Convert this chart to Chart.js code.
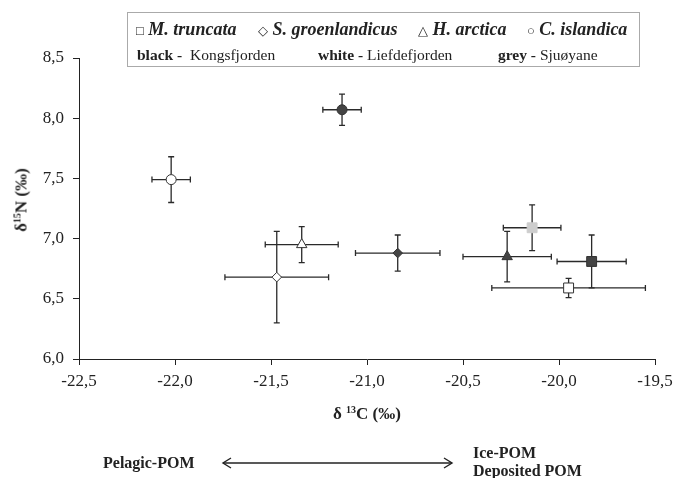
<!DOCTYPE html>
<html>
<head>
<meta charset="utf-8">
<title>δ15N vs δ13C</title>
<script src="https://cdn.jsdelivr.net/npm/chart.js@4.4.0/dist/chart.umd.min.js"></script>
<style>
  html, body { margin: 0; padding: 0; background: #fff; }
  #wrap { position: relative; width: 673px; height: 478px; overflow: hidden;
          font-family: 'Liberation Serif', 'Times New Roman', serif; color: #222; }
  #chart { position: absolute; left: 0; top: 0; }
  .t { position: absolute; white-space: nowrap; line-height: 1; transform: translateY(-50%); }
  .sp { font-weight: bold; font-style: italic; font-size: 18px; }
  .sym { font-size: 13px; font-style: normal; font-weight: normal; }
  .r2 { font-size: 15.5px; }
  .b { font-weight: bold; }
  #legendBox { position: absolute; left: 127px; top: 12px; width: 513px; height: 55px;
               border: 1px solid #aaa; box-sizing: border-box; }
  sup { font-size: 10px; vertical-align: 6px; }
</style>
</head>
<body>
<div id="wrap">
  <canvas id="chart" width="673" height="478"></canvas>

  <div id="legendBox"></div>
  <span class="t sp" style="left:136px;top:29px"><span class="sym">□</span> M. truncata</span>
  <span class="t sp" style="left:258px;top:29px"><span class="sym">◇</span> S. groenlandicus</span>
  <span class="t sp" style="left:418px;top:29px"><span class="sym">△</span> H. arctica</span>
  <span class="t sp" style="left:527px;top:29px"><span class="sym">○</span> C. islandica</span>

  <span class="t r2" style="left:137px;top:55px"><span class="b">black -</span>&nbsp; Kongsfjorden</span>
  <span class="t r2" style="left:318px;top:55px"><span class="b">white -</span> Liefdefjorden</span>
  <span class="t r2" style="left:498px;top:55px"><span class="b">grey -</span> Sjuøyane</span>

  <span class="t b" style="left:333px;top:413px;font-size:17px">δ <sup>13</sup>C (‰)</span>
  <span class="t b" style="left:21px;top:200px;font-size:17px;transform:translate(-50%,-50%) rotate(-90deg)">δ<sup>15</sup>N (‰)</span>

  <span class="t b" style="left:103px;top:463px;font-size:16px">Pelagic-POM</span>
  <span class="t b" style="left:473px;top:453px;font-size:16px">Ice-POM</span>
  <span class="t b" style="left:473px;top:471px;font-size:16px">Deposited POM</span>
  <svg style="position:absolute;left:220px;top:455px" width="236" height="16">
    <line x1="3" y1="8" x2="232" y2="8" stroke="#222" stroke-width="1.4"/>
    <polyline points="11,3 3,8 11,13" fill="none" stroke="#222" stroke-width="1.4"/>
    <polyline points="224,3 232,8 224,13" fill="none" stroke="#222" stroke-width="1.4"/>
  </svg>
</div>

<script>
// --- data (means ± sd) ---
const species = ['M. truncata', 'S. groenlandicus', 'H. arctica', 'C. islandica'];
const speciesShape = ['rect', 'rectRot', 'triangle', 'circle'];
const speciesSize = [7, 4.8, 6, 5];

// Kongsfjorden (black), order = species
const kongsC   = [-19.83, -20.84, -20.27, -21.13];
const kongsN   = [6.81, 6.88, 6.85, 8.07];
const kongsCsd = [0.18, 0.22, 0.23, 0.10];
const kongsNsd = [0.22, 0.15, 0.21, 0.13];

// Liefdefjorden (white)
const liefC   = [-19.95, -21.47, -21.34, -22.02];
const liefN   = [6.59, 6.68, 6.95, 7.49];
const liefCsd = [0.40, 0.27, 0.19, 0.10];
const liefNsd = [0.08, 0.38, 0.15, 0.19];

// Sjuøyane (grey), only M. truncata
const sjuC   = [-20.14];
const sjuN   = [7.09];
const sjuCsd = [0.15];
const sjuNsd = [0.19];

const xTickLabels = ['-22,5', '-22,0', '-21,5', '-21,0', '-20,5', '-20,0', '-19,5'];
const yTickLabels = ['6,0', '6,5', '7,0', '7,5', '8,0', '8,5'];

const FONT = 'Liberation Serif';
const INK = '#222';

const points = (cs, ns, csd, nsd) => cs.map((c, i) => ({ x: c, y: ns[i], xe: csd[i], ye: nsd[i] }));

const siteDataset = (label, data, fill, border) => ({
    label,
    data,
    pointStyle: speciesShape.slice(0, data.length),
    pointRadius: speciesSize.slice(0, data.length),
    pointBackgroundColor: fill,
    pointBorderColor: border,
    pointBorderWidth: 1,
    showLine: false
});

// error bars drawn from the same scales, under the markers
const errorBars = {
    id: 'errorBars',
    beforeDatasetsDraw(chart) {
        const { ctx, scales: { x, y } } = chart;
        const cap = 3;
        ctx.save();
        ctx.strokeStyle = '#2a2a2a';
        ctx.lineWidth = 1.3;
        chart.data.datasets.forEach(ds => {
            ds.data.forEach(p => {
                const px = x.getPixelForValue(p.x), py = y.getPixelForValue(p.y);
                const xl = x.getPixelForValue(p.x - p.xe), xr = x.getPixelForValue(p.x + p.xe);
                const yt = y.getPixelForValue(p.y + p.ye), yb = y.getPixelForValue(p.y - p.ye);
                ctx.beginPath();
                ctx.moveTo(xl, py); ctx.lineTo(xr, py);
                ctx.moveTo(xl, py - cap); ctx.lineTo(xl, py + cap);
                ctx.moveTo(xr, py - cap); ctx.lineTo(xr, py + cap);
                ctx.moveTo(px, yt); ctx.lineTo(px, yb);
                ctx.moveTo(px - cap, yt); ctx.lineTo(px + cap, yt);
                ctx.moveTo(px - cap, yb); ctx.lineTo(px + cap, yb);
                ctx.stroke();
            });
        });
        ctx.restore();
    }
};

new Chart(document.getElementById('chart'), {
    type: 'scatter',
    data: {
        datasets: [
            siteDataset('Kongsfjorden', points(kongsC, kongsN, kongsCsd, kongsNsd), '#444', '#333'),
            siteDataset('Liefdefjorden', points(liefC, liefN, liefCsd, liefNsd), '#fff', '#333'),
            siteDataset('Sjuøyane', points(sjuC, sjuN, sjuCsd, sjuNsd), '#cdcdcd', '#cdcdcd')
        ]
    },
    options: {
        responsive: false,
        animation: false,
        layout: { padding: { left: 0, top: 58, right: 18, bottom: 0 } },
        plugins: { legend: { display: false }, tooltip: { enabled: false } },
        scales: {
            x: {
                type: 'linear',
                min: -22.5, max: -19.5,
                afterFit: s => { s.height = 119; s.paddingRight = 0; s.paddingLeft = 0; },
                afterBuildTicks: s => { s.ticks = xTickLabels.map((_, i) => ({ value: -22.5 + i * 0.5 })); },
                border: { display: true, color: INK, width: 1 },
                grid: { drawOnChartArea: false, drawTicks: true, tickLength: 6, color: INK },
                ticks: {
                    padding: 6,
                    color: INK,
                    font: { family: FONT, size: 17 },
                    maxRotation: 0,
                    callback: (v, i) => xTickLabels[i]
                }
            },
            y: {
                type: 'linear',
                min: 6, max: 8.5,
                afterFit: s => { s.width = 79; s.paddingTop = 0; s.paddingBottom = 0; },
                afterBuildTicks: s => { s.ticks = yTickLabels.map((_, i) => ({ value: 6 + i * 0.5 })); },
                border: { display: true, color: INK, width: 1 },
                grid: { drawOnChartArea: false, drawTicks: true, tickLength: 6, color: INK },
                ticks: {
                    padding: 9,
                    color: INK,
                    font: { family: FONT, size: 17 },
                    callback: (v, i) => yTickLabels[i]
                }
            }
        }
    },
    plugins: [errorBars]
});
</script>
</body>
</html>
